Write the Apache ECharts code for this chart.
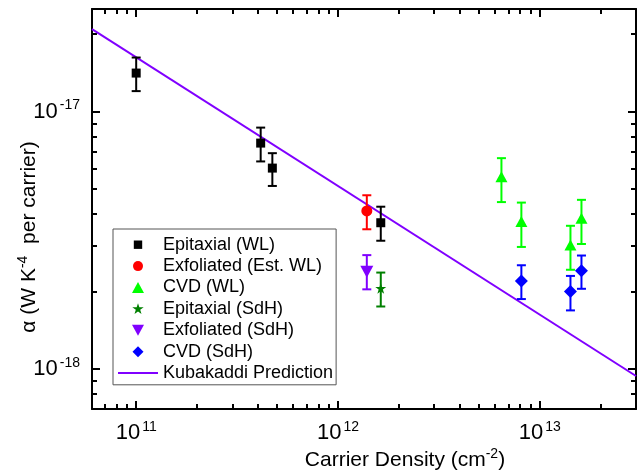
<!DOCTYPE html>
<html><head><meta charset="utf-8">
<script src="https://cdn.jsdelivr.net/npm/echarts@6/dist/echarts.min.js"></script>
<style>html,body{margin:0;padding:0;background:#fff}#c{width:641px;height:476px}</style>
</head><body><div id="c"></div>
<script>
// ---------- data ----------
const epiWL_x  = [1.00e11, 4.14e11, 4.73e11, 1.63e12];
const epiWL_y  = [1.41e-17, 7.54e-18, 6.03e-18, 3.70e-18];
const epiWL_lo = [1.20e-17, 6.40e-18, 5.14e-18, 3.15e-18];
const epiWL_hi = [1.62e-17, 8.66e-18, 6.89e-18, 4.27e-18];

const exfWL_x  = [1.39e12];
const exfWL_y  = [4.11e-18];
const exfWL_lo = [3.49e-18];
const exfWL_hi = [4.73e-18];

const cvdWL_x  = [6.46e12, 8.11e12, 1.42e13, 1.61e13];
const cvdWL_y  = [5.58e-18, 3.74e-18, 3.03e-18, 3.85e-18];
const cvdWL_lo = [4.45e-18, 2.98e-18, 2.43e-18, 3.06e-18];
const cvdWL_hi = [6.59e-18, 4.43e-18, 3.60e-18, 4.54e-18];

const epiSdH_x  = [1.63e12];
const epiSdH_y  = [2.06e-18];
const epiSdH_lo = [1.75e-18];
const epiSdH_hi = [2.37e-18];

const exfSdH_x  = [1.39e12];
const exfSdH_y  = [2.39e-18];
const exfSdH_lo = [2.04e-18];
const exfSdH_hi = [2.77e-18];

const cvdSdH_x  = [8.11e12, 1.42e13, 1.61e13];
const cvdSdH_y  = [2.20e-18, 2.00e-18, 2.41e-18];
const cvdSdH_lo = [1.87e-18, 1.69e-18, 2.05e-18];
const cvdSdH_hi = [2.53e-18, 2.30e-18, 2.76e-18];

const kuba_x = [6.04e10, 3.0e13];
const kuba_y = [2.09e-17, 9.4e-19];

const xMajorTicks = [1e11, 1e12, 1e13];
const xMinorTicks = [7e10, 8e10, 9e10, 2e11, 3e11, 4e11, 5e11, 6e11, 7e11, 8e11, 9e11,
  2e12, 3e12, 4e12, 5e12, 6e12, 7e12, 8e12, 9e12, 2e13];
const yMajorTicks = [1e-18, 1e-17];
const yMinorTicks = [8e-19, 9e-19, 2e-18, 3e-18, 4e-18, 5e-18, 6e-18, 7e-18, 8e-18, 9e-18, 2e-17];

const xMin = 6.04e10, xMax = 3.0e13, yMin = 7.0e-19, yMax = 2.5e-17;

const names = ['Epitaxial (WL)', 'Exfoliated (Est. WL)', 'CVD (WL)', 'Epitaxial (SdH)',
  'Exfoliated (SdH)', 'CVD (SdH)', 'Kubakaddi Prediction'];

// ---------- styling ----------
const FONT = '"Liberation Sans", Arial, Helvetica, sans-serif';
const richTick = {
  a: {fontSize: 22, fontFamily: FONT, color: '#000', lineHeight: 26},
  b: {fontSize: 14, fontFamily: FONT, color: '#000', lineHeight: 15, verticalAlign: 'top', padding: [0, 0, 0, 2]}
};
const richName = {
  a: {fontSize: 21, fontFamily: FONT, color: '#000', lineHeight: 26},
  b: {fontSize: 14, fontFamily: FONT, color: '#000', lineHeight: 15, verticalAlign: 'top'}
};
const STAR = 'path://M50,0 L61.2,34.5 L97.6,34.5 L68.2,55.9 L79.4,90.5 L50,69.1 L20.6,90.5 L31.8,55.9 L2.4,34.5 L38.8,34.5 Z';
const DOWNTRI = 'path://M0,0 L100,0 L50,90 Z';

// legend icons drawn inside a 40x14 box (corner points fix the box)
const BOX = 'M0,0 L0,0 M40,14 L40,14 ';
const legendIcons = [
  'path://' + BOX + 'M15.8,2.8 L24.2,2.8 L24.2,11.2 L15.8,11.2 Z',
  'path://' + BOX + 'M15,7 A5,5 0 1,0 25,7 A5,5 0 1,0 15,7 Z',
  'path://' + BOX + 'M14,12.5 L26,12.5 L20,1.5 Z',
  'path://' + BOX + 'M20,1.3 L21.35,5.4 L25.7,5.4 L22.2,7.9 L23.5,12.0 L20,9.5 L16.5,12.0 L17.8,7.9 L14.3,5.4 L18.65,5.4 Z',
  'path://' + BOX + 'M14,1.5 L26,1.5 L20,12.5 Z',
  'path://' + BOX + 'M20,1.5 L25.5,7 L20,12.5 L14.5,7 Z',
  'path://' + BOX + 'M0,6 L40,6 L40,8 L0,8 Z'
];

const groups = [
  {name: names[0], x: epiWL_x, y: epiWL_y, lo: epiWL_lo, hi: epiWL_hi, color: '#000000', symbol: 'rect', size: 9},
  {name: names[1], x: exfWL_x, y: exfWL_y, lo: exfWL_lo, hi: exfWL_hi, color: '#ff0000', symbol: 'circle', size: 11},
  {name: names[2], x: cvdWL_x, y: cvdWL_y, lo: cvdWL_lo, hi: cvdWL_hi, color: '#00ff00', symbol: 'triangle', size: [12, 11]},
  {name: names[3], x: epiSdH_x, y: epiSdH_y, lo: epiSdH_lo, hi: epiSdH_hi, color: '#008000', symbol: STAR, size: 11},
  {name: names[4], x: exfSdH_x, y: exfSdH_y, lo: exfSdH_lo, hi: exfSdH_hi, color: '#8000ff', symbol: DOWNTRI, size: [13, 12]},
  {name: names[5], x: cvdSdH_x, y: cvdSdH_y, lo: cvdSdH_lo, hi: cvdSdH_hi, color: '#0000ff', symbol: 'diamond', size: 13}
];

function errRender(color) {
  return function (params, api) {
    const x = api.value(0), lo = api.value(1), hi = api.value(2);
    const pLo = api.coord([x, lo]), pHi = api.coord([x, hi]);
    const w = 4.5;
    const st = {stroke: color, lineWidth: 2, fill: null};
    return {type: 'group', children: [
      {type: 'line', shape: {x1: pLo[0], y1: pLo[1], x2: pHi[0], y2: pHi[1]}, style: st},
      {type: 'line', shape: {x1: pLo[0] - w, y1: pLo[1], x2: pLo[0] + w, y2: pLo[1]}, style: st},
      {type: 'line', shape: {x1: pHi[0] - w, y1: pHi[1], x2: pHi[0] + w, y2: pHi[1]}, style: st}
    ]};
  };
}

const series = [];
series.push({
  name: names[6], type: 'line', symbol: 'none', silent: true,
  data: kuba_x.map((v, i) => [v, kuba_y[i]]),
  lineStyle: {color: '#8000ff', width: 2}, itemStyle: {color: '#8000ff'}, z: 2
});
groups.forEach(g => {
  series.push({
    name: g.name + ' err', type: 'custom', silent: true, z: 3,
    renderItem: errRender(g.color), encode: {x: 0, y: [1, 2]},
    data: g.x.map((v, i) => [v, g.lo[i], g.hi[i]])
  });
});
groups.forEach(g => {
  series.push({
    name: g.name, type: 'scatter', silent: true, z: 4,
    symbol: g.symbol, symbolSize: g.size,
    itemStyle: {color: g.color, opacity: 1},
    data: g.x.map((v, i) => [v, g.y[i]])
  });
});

function supLabel(v) {
  return '{a|10}{b|' + Math.round(Math.log10(v)) + '}';
}

function mkAxis(pos, min, max, ticks, len, showLine, showLabel, margin, extra) {
  const ax = {
    type: 'log', logBase: 10, position: pos, min: min, max: max, offset: 0,
    axisLine: {show: showLine, onZero: false, lineStyle: {color: '#000', width: 2}},
    axisTick: {show: true, inside: true, length: len, customValues: ticks, lineStyle: {color: '#000', width: 2}},
    minorTick: {show: false},
    axisLabel: showLabel ? {show: true, customValues: ticks, formatter: supLabel, rich: richTick, margin: margin} : {show: false},
    splitLine: {show: false}, minorSplitLine: {show: false}, axisPointer: {show: false}
  };
  return Object.assign(ax, extra || {});
}

const option = {
  animation: false,
  backgroundColor: '#fff',
  textStyle: {fontFamily: FONT},
  grid: {left: 92, right: 5, top: 9, bottom: 67, containLabel: false, outerBoundsMode: 'none'},
  xAxis: [
    mkAxis('bottom', xMin, xMax, xMajorTicks, 8, true, true, 11, {
      name: '{a|Carrier Density (cm}{b|-2}{a|)}', nameLocation: 'middle', nameGap: 38,
      nameMoveOverlap: false,
      nameTextStyle: {rich: richName, padding: [0, 0, 0, 82]}
    }),
    mkAxis('bottom', xMin, xMax, xMinorTicks, 5, false, false),
    mkAxis('top', xMin, xMax, xMajorTicks, 8, true, false),
    mkAxis('top', xMin, xMax, xMinorTicks, 5, false, false)
  ],
  yAxis: [
    mkAxis('left', yMin, yMax, yMajorTicks, 8, true, true, 12, {
      name: '{a|α (W K}{b|-4}{a|  per carrier)}', nameLocation: 'middle', nameGap: 50,
      nameMoveOverlap: false,
      nameTextStyle: {rich: richName, padding: [0, 56, 0, 0]}
    }),
    mkAxis('left', yMin, yMax, yMinorTicks, 5, false, false),
    mkAxis('right', yMin, yMax, yMajorTicks, 8, true, false),
    mkAxis('right', yMin, yMax, yMinorTicks, 5, false, false)
  ],
  legend: {
    orient: 'vertical', left: 113, top: 229,
    itemWidth: 40, itemHeight: 14, itemGap: 0,
    padding: [5, 3, 1, 5],
    borderColor: '#555', borderWidth: 1, backgroundColor: '#fff',
    selectedMode: false,
    textStyle: {fontSize: 18, fontFamily: FONT, color: '#000', lineHeight: 21.4},
    data: names.map((n, i) => ({name: n, icon: legendIcons[i]}))
  },
  series: series
};

const chart = echarts.init(document.getElementById('c'), null, {renderer: 'canvas'});
chart.setOption(option);
</script>
</body></html>
